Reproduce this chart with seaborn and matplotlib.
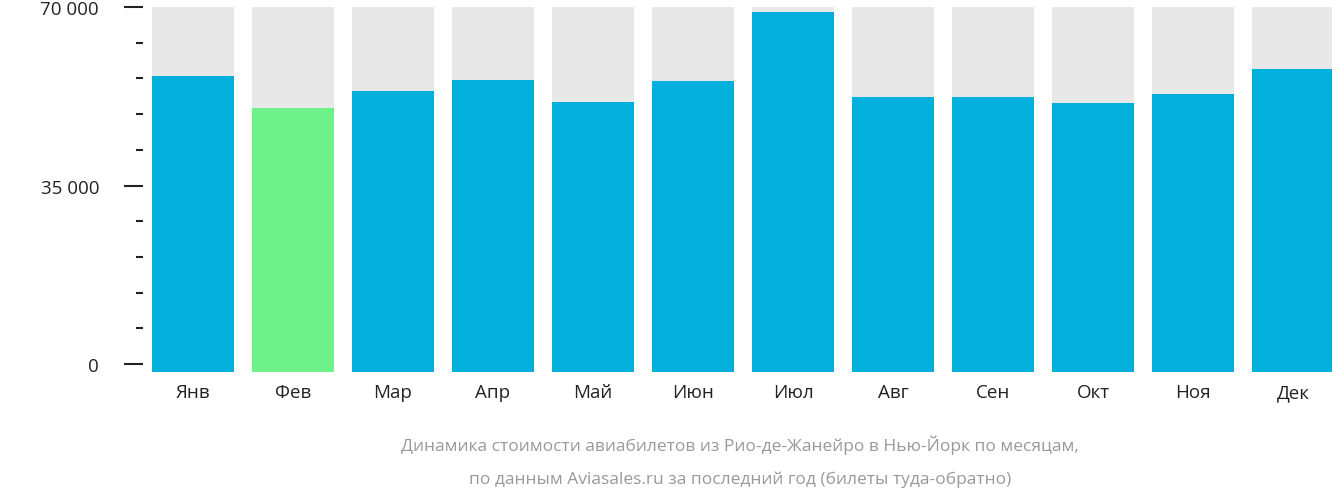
import matplotlib
matplotlib.use("Agg")
import matplotlib.pyplot as plt
import seaborn as sns
import pandas as pd
from matplotlib.ticker import MultipleLocator, FuncFormatter

months = ["Янв","Фев","Мар","Апр","Май","Июн","Июл","Авг","Сен","Окт","Ноя","Дек"]
prices = [56500, 50200, 53500, 55700, 51400, 55500, 69000, 52400, 52400, 51200, 52900, 57800]
highlight = "Фев"

plt.rcParams["font.family"] = "Open Sans"
fig = plt.figure(figsize=(13.32, 5.02), dpi=100)
ax = fig.add_axes([143/1332, 1-373/502, 1200/1332, 373/502])
ymin, ymax = -1570, 71570
df = pd.DataFrame({"m": months, "p": prices, "bg": [ymax]*len(months)})
sns.barplot(data=df, x="m", y="bg", color="#e8e8e8", width=0.82, ax=ax, saturation=1, bottom=ymin)
colors = ["#6ef08a" if m == highlight else "#03b0dc" for m in months]
df["h"] = df["p"] - ymin
sns.barplot(data=df, x="m", y="h", hue="m", palette=colors, width=0.82, ax=ax, saturation=1, legend=False, bottom=ymin)
ax.set_ylim(ymin, ymax)
ax.set_xlim(-0.5, 11.5)
for s in ax.spines.values():
    s.set_visible(False)
ax.yaxis.set_major_locator(MultipleLocator(35000))
ax.yaxis.set_minor_locator(MultipleLocator(7000))
ax.yaxis.set_major_formatter(FuncFormatter(lambda v, p: f"{int(v):,}".replace(",", " ") + " ₽"))
ax.tick_params(axis="y", which="major", length=14, width=1.5, color="#222222", labelsize=13.5, labelcolor="#222222", pad=6)
ax.tick_params(axis="y", which="minor", length=5, width=1.5, color="#222222")
ax.tick_params(axis="x", length=0, labelsize=13.5, labelcolor="#222222", pad=8)
ax.set_xlabel(""); ax.set_ylabel("")
fig.text(740/1332, 1-445/502, "Динамика стоимости авиабилетов из Рио-де-Жанейро в Нью-Йорк по месяцам,",
         ha="center", va="center", color="#999999", fontsize=12.5)
fig.text(740/1332, 1-480/502, "по данным Aviasales.ru за последний год (билеты туда-обратно)",
         ha="center", va="center", color="#999999", fontsize=12.5)
fig.savefig("out.png", dpi=100)
